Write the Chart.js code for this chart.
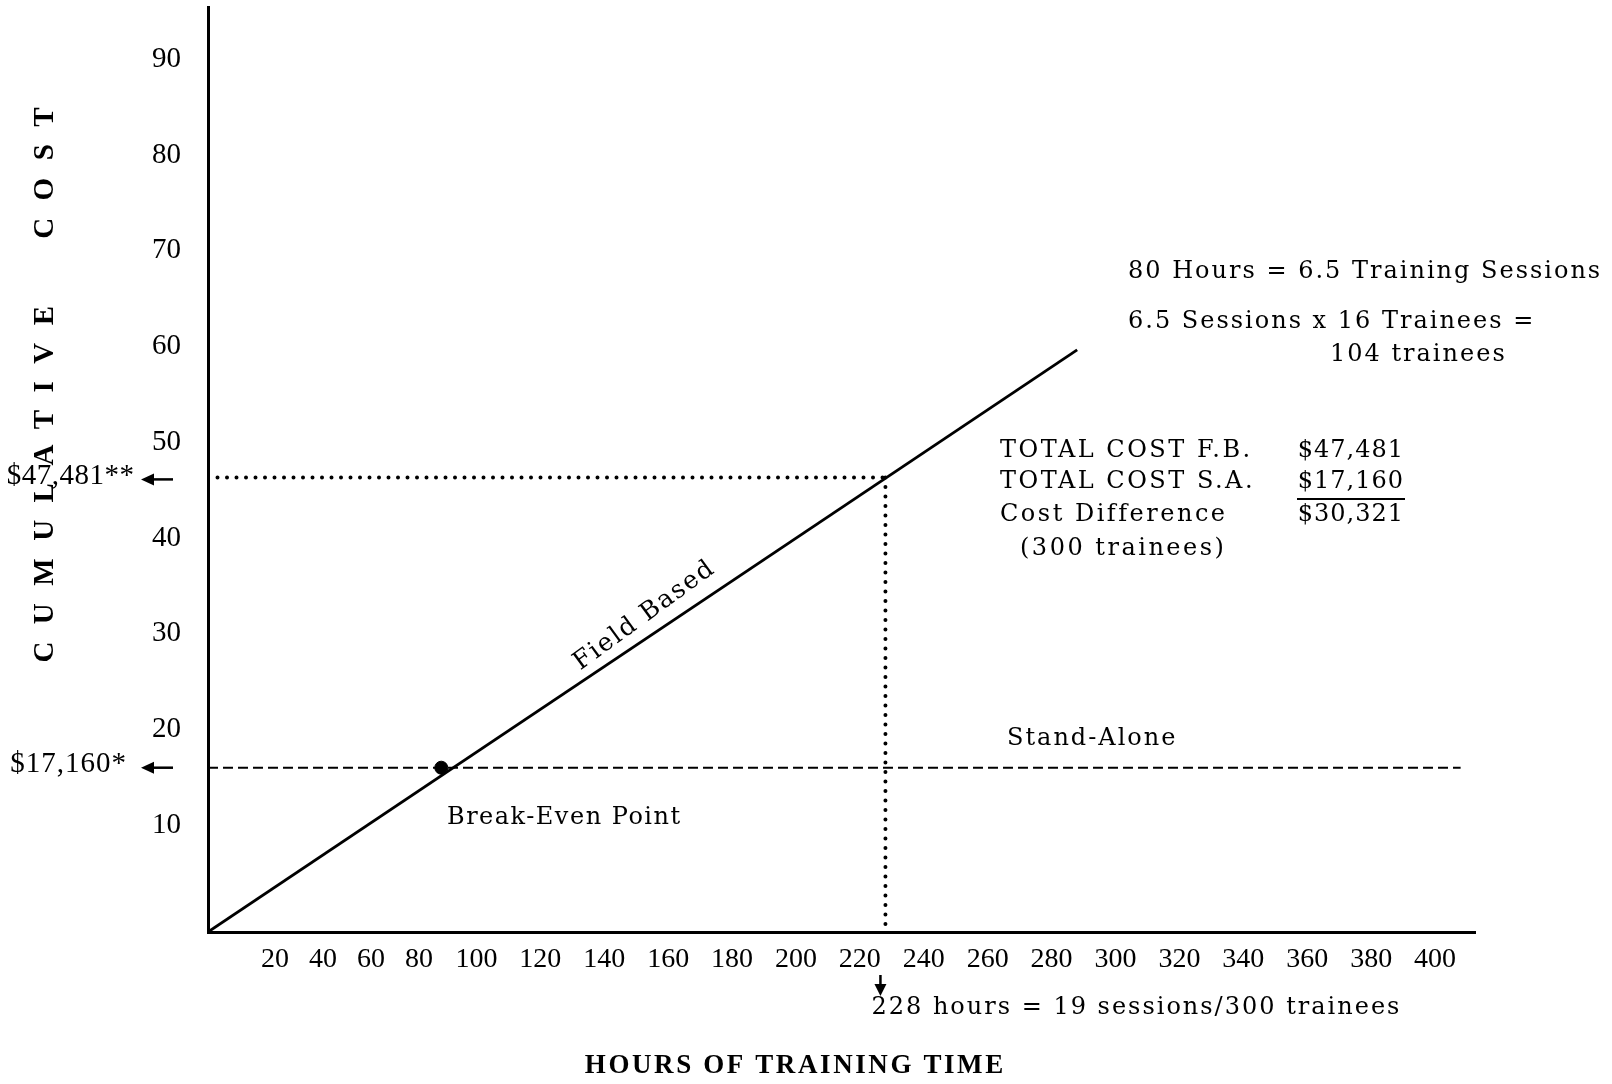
<!DOCTYPE html>
<html lang="en">
<head>
<meta charset="UTF-8">
<title>Cumulative Cost - Field Based vs Stand-Alone</title>
<script src="https://cdn.jsdelivr.net/npm/chart.js"></script>
<style>
    body { margin: 0; background: #ffffff; }
    #wrap { width: 1612px; height: 1084px; }
</style>
</head>
<body>
<div id="wrap"><canvas id="chart" width="1612" height="1084"></canvas></div>
<script>
    // x = hours of training time, y = cumulative cost in $1000
    const xTickLabels = [20, 40, 60, 80, 100, 120, 140, 160, 180, 200, 220, 240, 260, 280, 300, 320, 340, 360, 380, 400];
    // the first five labels are printed bunched together on the original axis
    const xTickAt = [37, 52, 67, 82, 100, 120, 140, 160, 180, 200, 220, 240, 260, 280, 300, 320, 340, 360, 380, 400];
    const yTickLabels = [10, 20, 30, 40, 50, 60, 70, 80, 90];

    const fieldBasedHours = [16, 288];
    const fieldBasedCost = [0, 60.8];
    const standAloneHours = [16, 408];
    const standAloneCost = [17.16, 17.16];
    const breakEvenHours = [89];
    const breakEvenCost = [17.16];
    const totalHours = 228;      // 19 sessions / 300 trainees
    const totalCostFB = 47.481;
    const totalCostSA = 17.160;

    function pts(xs, ys) {
        return xs.map((h, i) => ({ x: h, y: ys[i] }));
    }

    const serif = '"Liberation Serif", "Times New Roman", serif';
    const typed = '"DejaVu Serif", serif';

    function put(ctx, s, x, y, font, spacing, align) {
        ctx.font = font;
        ctx.letterSpacing = (spacing || 0) + 'px';
        let w = ctx.measureText(s).width - (spacing || 0);
        let left = x;
        if (align === 'right') left = x - w;
        if (align === 'center') left = x - w / 2;
        ctx.textAlign = 'left';
        ctx.fillText(s, left, y);
    }

    function arrowLeft(ctx, x1, x2, y) {
        ctx.lineWidth = 2.5;
        ctx.beginPath();
        ctx.moveTo(x1, y);
        ctx.lineTo(x2 + 8, y);
        ctx.stroke();
        ctx.beginPath();
        ctx.moveTo(x2, y);
        ctx.lineTo(x2 + 13, y - 6);
        ctx.lineTo(x2 + 13, y + 6);
        ctx.closePath();
        ctx.fill();
    }

    // drop the label padding Chart.js reserves so the plot fills the frame
    function noPad(s) {
        s.paddingTop = 0;
        s.paddingBottom = 0;
        s.paddingLeft = 0;
        s.paddingRight = 0;
    }

    const notes = {
        id: 'notes',
        afterDraw(chart) {
            const ctx = chart.ctx;
            const xs = chart.scales.x, ys = chart.scales.y;
            ctx.save();
            ctx.fillStyle = '#000';
            ctx.strokeStyle = '#000';
            ctx.textBaseline = 'middle';
            const t = '24px ' + typed;

            // right hand notes
            put(ctx, '80 Hours = 6.5 Training Sessions', 1128, 272, t, 2);
            put(ctx, '6.5 Sessions x 16 Trainees =', 1128, 322, t, 2);
            put(ctx, '104 trainees', 1330, 355, t, 2);

            put(ctx, 'TOTAL COST F.B.', 1000, 451, t, 2.5);
            put(ctx, '$' + totalCostFB.toFixed(3).replace('.', ','), 1403, 451, t, 1, 'right');
            put(ctx, 'TOTAL COST S.A.', 1000, 482, t, 2.5);
            put(ctx, '$' + totalCostSA.toFixed(3).replace('.', ','), 1403, 482, t, 1, 'right');
            ctx.lineWidth = 2;
            ctx.beginPath();
            ctx.moveTo(1297, 499);
            ctx.lineTo(1405, 499);
            ctx.stroke();
            put(ctx, 'Cost Difference', 1000, 515, t, 2.5);
            put(ctx, '$' + (totalCostFB - totalCostSA).toFixed(3).replace('.', ','), 1403, 515, t, 1, 'right');
            put(ctx, '(300 trainees)', 1020, 549, t, 2.5);

            put(ctx, 'Stand-Alone', 1007, 739, t, 2);
            put(ctx, 'Break-Even Point', 447, 818, t, 1.5);

            // Field Based label along the line
            const p0 = { x: xs.getPixelForValue(fieldBasedHours[0]), y: ys.getPixelForValue(fieldBasedCost[0]) };
            const p1 = { x: xs.getPixelForValue(fieldBasedHours[1]), y: ys.getPixelForValue(fieldBasedCost[1]) };
            const ang = Math.atan2(p1.y - p0.y, p1.x - p0.x) - 0.04;
            const f = 0.515;
            ctx.save();
            ctx.translate(p0.x + (p1.x - p0.x) * f, p0.y + (p1.y - p0.y) * f);
            ctx.rotate(ang);
            put(ctx, 'Field Based', 0, -20, '25px ' + typed, 1.8, 'center');
            ctx.restore();

            // cost markers on the left
            const yFB = ys.getPixelForValue(totalCostFB);
            const ySA = ys.getPixelForValue(totalCostSA);
            put(ctx, '$47,481**', 134, yFB - 1, '29px ' + serif, 0.5, 'right');
            arrowLeft(ctx, 173, 141, yFB + 2);
            put(ctx, '$17,160*', 126, ySA - 3, '29px ' + serif, 1, 'right');
            arrowLeft(ctx, 173, 141, ySA);

            // arrow down at 228 hours
            const xT = xs.getPixelForValue(totalHours) - 5;
            ctx.lineWidth = 2.5;
            ctx.beginPath();
            ctx.moveTo(xT, 975);
            ctx.lineTo(xT, 988);
            ctx.stroke();
            ctx.beginPath();
            ctx.moveTo(xT, 996);
            ctx.lineTo(xT - 6, 984);
            ctx.lineTo(xT + 6, 984);
            ctx.closePath();
            ctx.fill();
            put(ctx, '228 hours = 19 sessions/300 trainees', xT - 9, 1008, t, 2);

            // axis titles
            put(ctx, 'HOURS OF TRAINING TIME', 794, 1066, 'bold 27px ' + serif, 2.6, 'center');
            ctx.save();
            ctx.translate(46, 385);
            ctx.rotate(-Math.PI / 2);
            put(ctx, 'CUMULATIVE  COST', 0, 0, 'bold 29px ' + serif, 17.5, 'center');
            ctx.restore();

            ctx.restore();
        }
    };

    const chart = new Chart(document.getElementById('chart').getContext('2d'), {
        type: 'scatter',
        data: {
            datasets: [
                {
                    label: 'Field Based',
                    data: pts(fieldBasedHours, fieldBasedCost),
                    showLine: true,
                    borderColor: '#000',
                    borderWidth: 2.8,
                    pointRadius: 0
                },
                {
                    label: 'Stand-Alone',
                    data: pts(standAloneHours, standAloneCost),
                    showLine: true,
                    borderColor: '#000',
                    borderWidth: 2,
                    borderDash: [10, 5],
                    pointRadius: 0
                },
                {
                    label: 'F.B. total',
                    data: pts([fieldBasedHours[0], totalHours], [totalCostFB, totalCostFB]),
                    showLine: true,
                    borderColor: '#000',
                    borderWidth: 4,
                    borderDash: [0, 9.5],
                    borderCapStyle: 'round',
                    pointRadius: 0
                },
                {
                    label: '228 hours',
                    data: pts([totalHours, totalHours], [totalCostFB, 0]),
                    showLine: true,
                    borderColor: '#000',
                    borderWidth: 4,
                    borderDash: [0, 9.5],
                    borderCapStyle: 'round',
                    pointRadius: 0
                },
                {
                    label: 'Break-Even Point',
                    data: pts(breakEvenHours, breakEvenCost),
                    pointRadius: 6.5,
                    pointBackgroundColor: '#000',
                    pointBorderColor: '#000'
                }
            ]
        },
        options: {
            responsive: false,
            animation: false,
            layout: { padding: { left: 0, right: 137, top: 5, bottom: 0 } },
            plugins: {
                legend: { display: false },
                tooltip: { enabled: false }
            },
            scales: {
                x: {
                    type: 'linear',
                    min: 16,
                    max: 412.5,
                    afterBuildTicks: s => { s.ticks = xTickAt.map(v => ({ value: v })); },
                    afterFit: s => { s.height = 152; noPad(s); },
                    grid: { display: false, drawTicks: false },
                    border: { display: true, color: '#000', width: 3 },
                    ticks: {
                        autoSkip: false,
                        maxRotation: 0,
                        padding: 11,
                        color: '#000',
                        font: { family: serif, size: 28 },
                        callback: (v, i) => xTickLabels[i]
                    }
                },
                y: {
                    min: 0,
                    max: 96.56,
                    afterBuildTicks: s => { s.ticks = yTickLabels.map(v => ({ value: v })); },
                    afterFit: s => { s.width = 208; noPad(s); },
                    grid: { display: false, drawTicks: false },
                    border: { display: true, color: '#000', width: 3 },
                    ticks: {
                        padding: 27,
                        labelOffset: -11,
                        color: '#000',
                        font: { family: serif, size: 29 },
                        callback: (v, i) => yTickLabels[i]
                    }
                }
            }
        },
        plugins: [notes]
    });
</script>
</body>
</html>
